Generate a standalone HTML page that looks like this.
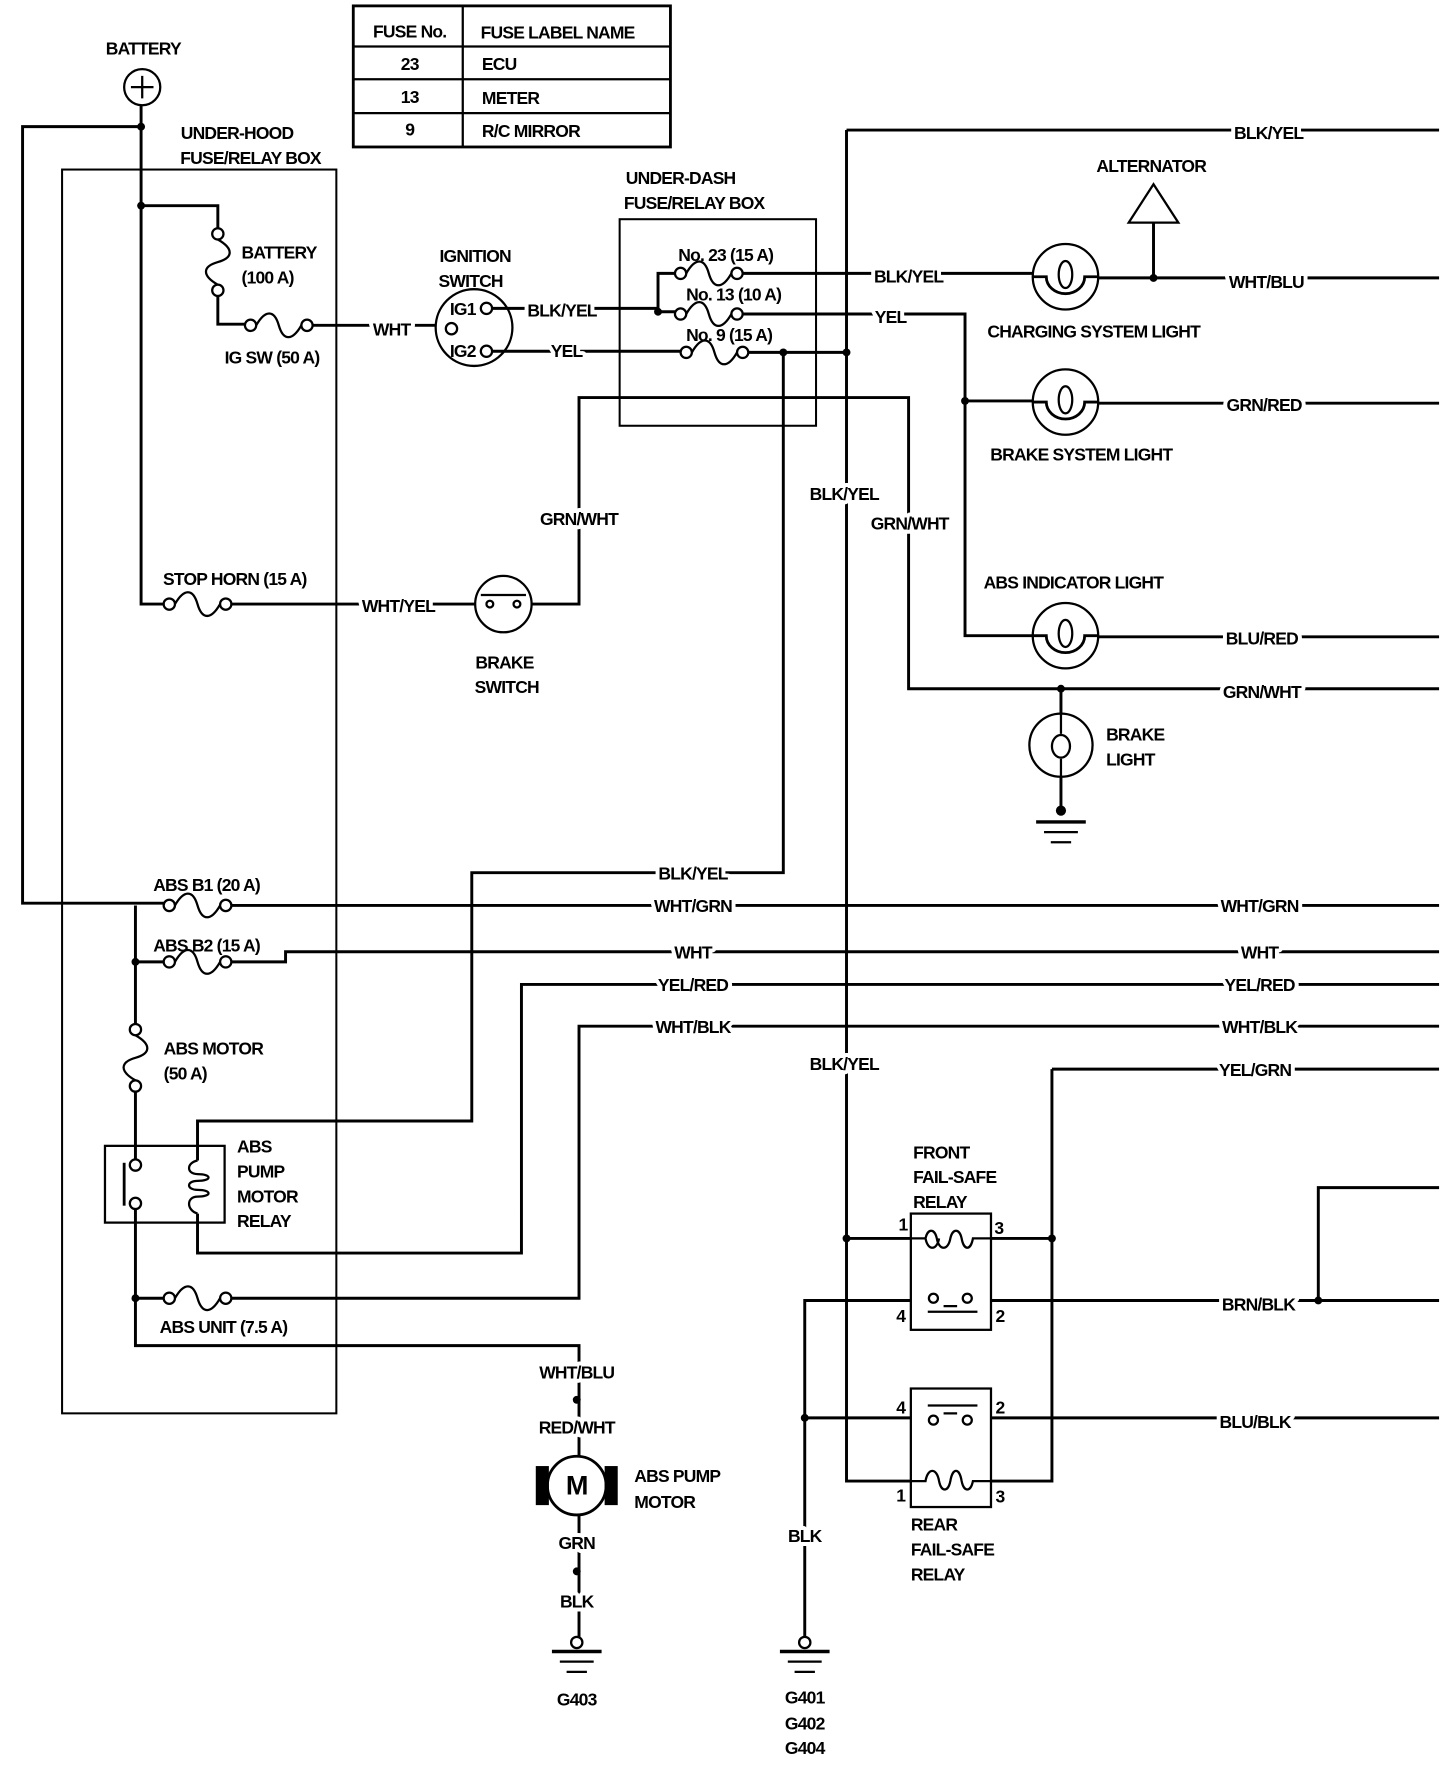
<!DOCTYPE html>
<html><head><meta charset="utf-8"><style>
html,body{margin:0;padding:0;background:#fff}
svg{display:block}
text{font-family:"Liberation Sans Narrow","Liberation Sans",sans-serif;font-weight:bold;font-size:15.5px;letter-spacing:-0.7px;fill:#000;text-anchor:middle}
.l{stroke:#fff;stroke-width:7px;paint-order:stroke;stroke-linejoin:round}
.s{text-anchor:start}
</style></head><body>
<svg width="1456" height="1768" viewBox="0 0 1290 1566" xmlns="http://www.w3.org/2000/svg">
<defs>
<g id="fh"><circle cx="-25" cy="0" r="5" fill="#fff" stroke="#000" stroke-width="2"/><circle cx="25" cy="0" r="5" fill="#fff" stroke="#000" stroke-width="2"/><path d="M-20,0 C-12,-14 -4,-14 0,0 C4,14 12,14 20,0" fill="none" stroke="#000" stroke-width="2"/></g>
<g id="lamp"><circle r="29" fill="#fff" stroke="#000" stroke-width="2"/><path d="M-29,0 L-17,0 A17 15 0 0 0 17,0 L29,0" fill="none" stroke="#000" stroke-width="2.5"/><ellipse cx="0" cy="-2" rx="6" ry="12" fill="none" stroke="#000" stroke-width="2"/></g>
<g id="gnd"><line x1="-22" y1="0" x2="22" y2="0" stroke="#000" stroke-width="3"/><line x1="-15" y1="9" x2="15" y2="9" stroke="#000" stroke-width="2"/><line x1="-9" y1="18" x2="9" y2="18" stroke="#000" stroke-width="2"/></g>
</defs>
<g fill="none" stroke="#000" stroke-width="2.6" stroke-linejoin="miter">
<rect x="313" y="5" width="281" height="125" stroke-width="2.5"/>
<line x1="410" y1="5" x2="410" y2="130" stroke-width="2"/>
<line x1="313" y1="41" x2="594" y2="41" stroke-width="2"/>
<line x1="313" y1="70" x2="594" y2="70" stroke-width="2"/>
<line x1="313" y1="100" x2="594" y2="100" stroke-width="2"/>
<rect x="55" y="150" width="243" height="1102" stroke-width="1.8"/>
<rect x="549" y="194" width="174" height="183" stroke-width="1.8"/>
<circle cx="126" cy="77" r="16" stroke-width="2"/>
<path d="M116,77 H136 M126,67 V87" stroke-width="2"/>
<path d="M125,93 V535 H150"/>
<path d="M125,112 H20 V800 H150"/>
<path d="M125,182 H193 V205"/>
<path d="M193,260 V287 H220"/>
<path d="M275,288 H386"/>
<circle cx="420" cy="290" r="34" stroke-width="2"/>
<path d="M436,273 H583 V242 H600 M583,276 H600 M436,311 H610"/>
<path d="M655,242 H915 M973,246 H1275 M1022,246 V197"/>
<path d="M1000,197 L1022,163 L1044,197 Z" stroke-width="2"/>
<path d="M655,278 H855 V563 H915 M855,355 H915 M973,357 H1275 M973,564 H1275"/>
<path d="M655,312 H750"/>
<path d="M750,115 H1275 M750,115 V1312 H807 M750,1097 H807"/>
<path d="M694,312 V773 H418 V993 H175 V1028"/>
<path d="M175,1075 V1110 H462 V872 H1275"/>
<path d="M200,535 H421 M471,535 H513 V352 H805 V610 H1275 M940,610 V632 M940,688 V718"/>
<circle cx="446" cy="535" r="25" stroke-width="2"/>
<path d="M426,527 H466" stroke-width="2"/>
<circle cx="434" cy="535" r="3" stroke-width="2"/><circle cx="458" cy="535" r="3" stroke-width="2"/>
<circle cx="940" cy="660" r="28" stroke-width="2"/>
<path d="M940,632 V650 M940,672 V688" stroke-width="2"/>
<ellipse cx="940" cy="661" rx="8" ry="10" stroke-width="2"/>
<path d="M200,802 H1275"/>
<path d="M120,802 V915 M120,852 H150 M200,852 H253 V843 H1275"/>
<path d="M120,960 V1030 M120,1067 V1192 H513 V1455 M120,1150 H150 M200,1150 H513 V909 H1275"/>
<rect x="93" y="1015" width="106" height="68" stroke-width="2"/>
<path d="M110,1030 V1068" stroke-width="2.5"/>
<circle cx="120" cy="1032" r="5" fill="#fff" stroke-width="2"/><circle cx="120" cy="1066" r="5" fill="#fff" stroke-width="2"/>
<path d="M175,1028 C165,1030 165,1040 175,1040 C188,1040 188,1046 175,1046 C165,1046 165,1054 175,1054 C188,1054 188,1060 175,1060 C165,1060 165,1072 175,1075" stroke-width="2"/>
<circle cx="511" cy="1316" r="26" fill="#fff" stroke-width="2.5"/>
<rect x="476" y="1300" width="9" height="32" fill="#000"/><rect x="537" y="1300" width="9" height="32" fill="#000"/>
<rect x="807" y="1075" width="71" height="103" stroke-width="2"/>
<rect x="807" y="1230" width="71" height="105" stroke-width="2"/>
<path d="M878,1097 H932 M932,947 H1275 M932,947 V1312 H878"/>
<path d="M878,1152 H1275 M1168,1152 V1052 H1275"/>
<path d="M807,1152 H713 V1455 M713,1256 H807 M878,1256 H1275"/>
<path d="M807,1097 H820 C822,1108 830,1108 832,1097 M820,1097 C822,1088 828,1088 830,1097 C832,1108 840,1108 842,1097 C844,1088 850,1088 852,1097 C854,1108 860,1108 862,1097 H878" stroke-width="2"/>
<path d="M807,1312 H820 C822,1300 830,1300 832,1312 C834,1322 840,1322 842,1312 C844,1300 850,1300 852,1312 C854,1322 860,1322 862,1312 H878" stroke-width="2"/>
<circle cx="827" cy="1150" r="4" fill="#fff" stroke-width="2"/><circle cx="857" cy="1150" r="4" fill="#fff" stroke-width="2"/>
<path d="M836,1157 H848 M822,1162 H866" stroke-width="2"/>
<circle cx="827" cy="1258" r="4" fill="#fff" stroke-width="2"/><circle cx="857" cy="1258" r="4" fill="#fff" stroke-width="2"/>
<path d="M836,1252 H848 M822,1245 H866" stroke-width="2"/>
<circle cx="511" cy="1455" r="5" fill="#fff" stroke-width="2"/>
<circle cx="713" cy="1455" r="5" fill="#fff" stroke-width="2"/>
</g>
<use href="#fh" transform="translate(193,232) rotate(90)"/>
<use href="#fh" transform="translate(247,288)"/>
<use href="#fh" transform="translate(175,535)"/>
<use href="#fh" transform="translate(175,802)"/>
<use href="#fh" transform="translate(175,852)"/>
<use href="#fh" transform="translate(120,937) rotate(90)"/>
<use href="#fh" transform="translate(175,1150)"/>
<use href="#fh" transform="translate(628,242)"/>
<use href="#fh" transform="translate(628,278)"/>
<use href="#fh" transform="translate(633,312)"/>
<circle cx="400" cy="291" r="5" fill="#fff" stroke="#000" stroke-width="2"/>
<circle cx="431" cy="273" r="5" fill="#fff" stroke="#000" stroke-width="2"/>
<circle cx="431" cy="311" r="5" fill="#fff" stroke="#000" stroke-width="2"/>
<use href="#lamp" transform="translate(944,245)"/>
<use href="#lamp" transform="translate(944,356)"/>
<use href="#lamp" transform="translate(944,563)"/>
<use href="#gnd" transform="translate(940,728)"/>
<use href="#gnd" transform="translate(511,1463)"/>
<use href="#gnd" transform="translate(713,1463)"/>
<g fill="#000">
<circle cx="125" cy="112" r="3.5"/><circle cx="125" cy="182" r="3.5"/><circle cx="583" cy="276" r="3.5"/>
<circle cx="1022" cy="246" r="3.5"/><circle cx="855" cy="355" r="3.5"/><circle cx="694" cy="312" r="3.5"/>
<circle cx="750" cy="312" r="3.5"/><circle cx="940" cy="610" r="3.5"/><circle cx="940" cy="718" r="4.5"/>
<circle cx="120" cy="852" r="3.5"/><circle cx="120" cy="1150" r="3.5"/><circle cx="750" cy="1097" r="3.5"/>
<circle cx="932" cy="1097" r="3.5"/><circle cx="1168" cy="1152" r="3.5"/><circle cx="713" cy="1256" r="3.5"/>
<circle cx="511" cy="1240" r="3.5"/><circle cx="511" cy="1392" r="3.5"/>
</g>
<text x="363" y="33">FUSE No.</text><text x="494" y="34">FUSE LABEL NAME</text>
<text x="363" y="62">23</text><text x="427" y="62" class="s">ECU</text>
<text x="363" y="91">13</text><text x="427" y="92" class="s">METER</text>
<text x="363" y="120">9</text><text x="427" y="121" class="s">R/C MIRROR</text>
<text x="127" y="48">BATTERY</text>
<text x="210" y="123">UNDER-HOOD</text><text x="222" y="145">FUSE/RELAY BOX</text>
<text x="214" y="229" class="s">BATTERY</text><text x="214" y="251" class="s">(100 A)</text>
<text x="241" y="322">IG SW (50 A)</text>
<text x="421" y="232">IGNITION</text><text x="417" y="254">SWITCH</text>
<text x="410" y="279">IG1</text><text x="410" y="316">IG2</text>
<text x="347" y="297" class="l">WHT</text><text x="498" y="280" class="l">BLK/YEL</text><text x="502" y="316" class="l">YEL</text>
<text x="603" y="163">UNDER-DASH</text><text x="615" y="185">FUSE/RELAY BOX</text>
<text x="643" y="231">No. 23 (15 A)</text><text x="650" y="266">No. 13 (10 A)</text><text x="646" y="302">No. 9 (15 A)</text>
<text x="1124" y="123" class="l">BLK/YEL</text><text x="1020" y="152">ALTERNATOR</text>
<text x="805" y="250" class="l">BLK/YEL</text><text x="1122" y="255" class="l">WHT/BLU</text>
<text x="789" y="286" class="l">YEL</text><text x="969" y="299">CHARGING SYSTEM LIGHT</text>
<text x="1120" y="364" class="l">GRN/RED</text><text x="958" y="408">BRAKE SYSTEM LIGHT</text>
<text x="748" y="443" class="l">BLK/YEL</text><text x="513" y="465" class="l">GRN/WHT</text><text x="806" y="469" class="l">GRN/WHT</text>
<text x="951" y="521">ABS INDICATOR LIGHT</text><text x="1118" y="571" class="l">BLU/RED</text>
<text x="208" y="518">STOP HORN (15 A)</text><text x="353" y="542" class="l">WHT/YEL</text>
<text x="447" y="592">BRAKE</text><text x="449" y="614">SWITCH</text>
<text x="1118" y="618" class="l">GRN/WHT</text>
<text x="980" y="656" class="s">BRAKE</text><text x="980" y="678" class="s">LIGHT</text>
<text x="614" y="779" class="l">BLK/YEL</text>
<text x="183" y="789">ABS B1 (20 A)</text><text x="614" y="808" class="l">WHT/GRN</text><text x="1116" y="808" class="l">WHT/GRN</text>
<text x="183" y="843">ABS B2 (15 A)</text><text x="614" y="849" class="l">WHT</text><text x="1116" y="849" class="l">WHT</text>
<text x="614" y="878" class="l">YEL/RED</text><text x="1116" y="878" class="l">YEL/RED</text>
<text x="614" y="915" class="l">WHT/BLK</text><text x="1116" y="915" class="l">WHT/BLK</text>
<text x="189" y="934">ABS MOTOR</text><text x="145" y="956" class="s">(50 A)</text>
<text x="748" y="948" class="l">BLK/YEL</text><text x="1112" y="953" class="l">YEL/GRN</text>
<text x="210" y="1021" class="s">ABS</text><text x="210" y="1043" class="s">PUMP</text><text x="210" y="1065" class="s">MOTOR</text><text x="210" y="1087" class="s">RELAY</text>
<text x="809" y="1026" class="s">FRONT</text><text x="809" y="1048" class="s">FAIL-SAFE</text><text x="809" y="1070" class="s">RELAY</text>
<text x="800" y="1090">1</text><text x="885" y="1093">3</text><text x="798" y="1171">4</text><text x="886" y="1171">2</text>
<text x="1115" y="1161" class="l">BRN/BLK</text>
<text x="198" y="1181">ABS UNIT (7.5 A)</text>
<text x="511" y="1221" class="l">WHT/BLU</text>
<text x="798" y="1252">4</text><text x="886" y="1252">2</text><text x="1112" y="1265" class="l">BLU/BLK</text>
<text x="511" y="1270" class="l">RED/WHT</text>
<text x="511" y="1324" style="font-size:24px">M</text>
<text x="562" y="1313" class="s">ABS PUMP</text><text x="562" y="1336" class="s">MOTOR</text>
<text x="798" y="1330">1</text><text x="886" y="1331">3</text>
<text x="807" y="1356" class="s">REAR</text><text x="807" y="1378" class="s">FAIL-SAFE</text><text x="807" y="1400" class="s">RELAY</text>
<text x="511" y="1372" class="l">GRN</text><text x="713" y="1366" class="l">BLK</text>
<text x="511" y="1424" class="l">BLK</text>
<text x="511" y="1511">G403</text>
<text x="713" y="1509">G401</text><text x="713" y="1532">G402</text><text x="713" y="1554">G404</text>
</svg>
</body></html>
